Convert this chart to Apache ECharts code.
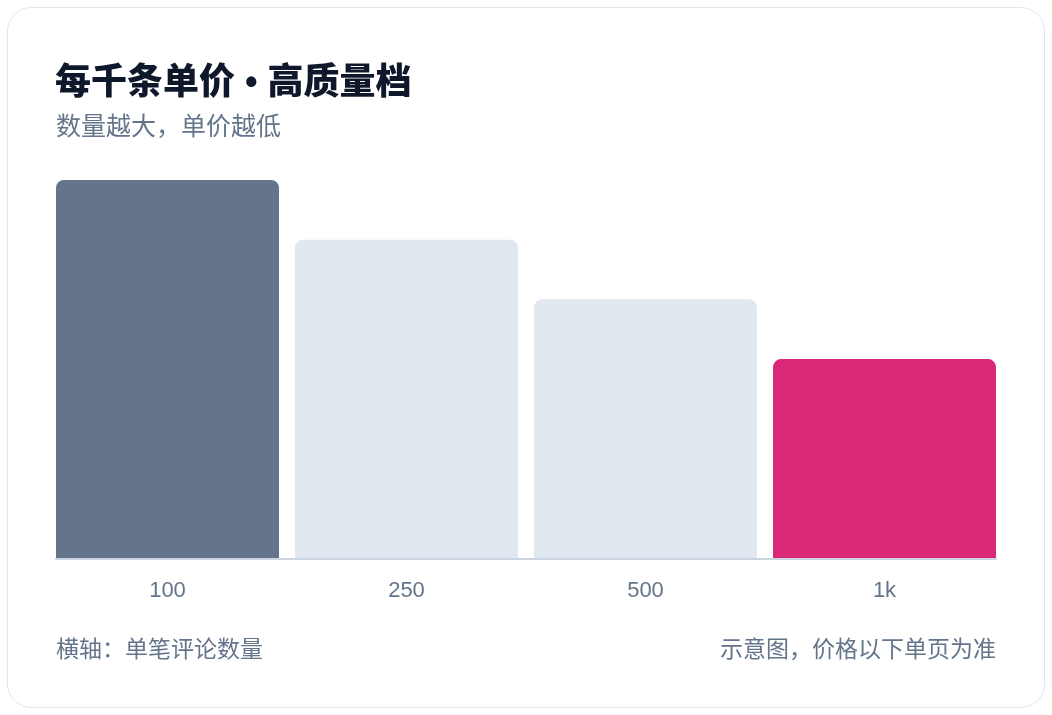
<!DOCTYPE html>
<html>
<head>
<meta charset="utf-8">
<script src="https://cdn.jsdelivr.net/npm/echarts@6/dist/echarts.min.js"></script>
<style>
html,body{margin:0;padding:0;background:#ffffff;}
#card{position:absolute;left:7px;top:7px;width:1036px;height:699px;border:1.5px solid #e2e8f0;border-radius:24px;background:#fff;}
#chart{position:absolute;left:0;top:0;width:1052px;height:715px;}
</style>
</head>
<body>
<div id="card"></div>
<div id="chart"></div>
<script>
var categories = ['100', '250', '500', '1k'];
var prices = [38, 32, 26, 20];
var barColors = ['#64748b', '#e2e8f0', '#e2e8f0', '#db2777'];
var titleText = '每千条单价 • 高质量档';
var subtitleText = '数量越大，单价越低';
var footLeft = '横轴：单笔评论数量';
var footRight = '示意图，价格以下单页为准';

var FONT = '"Liberation Sans", Arial, "Noto Sans CJK SC", sans-serif';
var chart = echarts.init(document.getElementById('chart'), null, {renderer: 'canvas'});
chart.setOption({
  animation: false,
  textStyle: {fontFamily: FONT},
  title: [
    {text: titleText, left: 55, top: 66, padding: 0,
     textStyle: {fontFamily: FONT, fontSize: 36, fontWeight: 900, color: '#0f172a'}},
    {text: subtitleText, left: 56, top: 116, padding: 0,
     textStyle: {fontFamily: FONT, fontSize: 25, fontWeight: 'normal', color: '#64748b'}},
    {text: footLeft, left: 56, top: 639, padding: 0,
     textStyle: {fontFamily: FONT, fontSize: 23, fontWeight: 'normal', color: '#64748b'}},
    {text: footRight, right: 56, top: 639, padding: 0,
     textStyle: {fontFamily: FONT, fontSize: 23, fontWeight: 'normal', color: '#64748b'}}
  ],
  grid: [
    {left: 48, right: 48, top: 180, bottom: 157},
    {left: 56, right: 56, top: 180, bottom: 156}
  ],
  xAxis: [
    {type: 'category', gridIndex: 0, data: categories,
     axisLine: {show: false}, axisTick: {show: false},
     axisLabel: {color: '#64748b', fontSize: 22, margin: 22, fontFamily: FONT}},
    {type: 'category', gridIndex: 1, data: categories,
     axisLine: {show: true, lineStyle: {color: '#cbd5e1', width: 2}},
     axisTick: {show: false}, axisLabel: {show: false}}
  ],
  yAxis: [
    {type: 'value', gridIndex: 0, min: 0, max: 'dataMax', show: false, splitLine: {show: false}},
    {type: 'value', gridIndex: 1, min: 0, max: 1, show: false, splitLine: {show: false}}
  ],
  series: [{
    type: 'bar',
    xAxisIndex: 0, yAxisIndex: 0,
    barWidth: 223,
    data: prices.map(function (v, i) {
      return {value: v, itemStyle: {color: barColors[i], borderRadius: [8, 8, 0, 0]}};
    })
  }]
});
</script>
</body>
</html>
